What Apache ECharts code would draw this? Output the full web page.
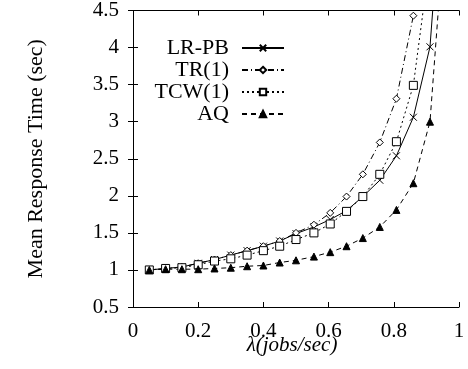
<!DOCTYPE html>
<html>
<head>
<meta charset="utf-8">
<script src="https://cdn.jsdelivr.net/npm/echarts@6/dist/echarts.min.js"></script>
<style>html,body{margin:0;padding:0;background:#fff;}#c{width:468px;height:369px;}</style>
</head>
<body>
<div id="c"></div>
<script>
// arrival rate (jobs/sec)
const lambda = [0.05,0.1,0.15,0.2,0.25,0.3,0.35,0.4,0.45,0.5,0.555,0.605,0.655,0.705,0.757,0.808,0.86,0.911,0.962];
const lrpb = [1.0,1.02,1.04,1.09,1.14,1.20,1.26,1.32,1.39,1.49,1.58,1.68,1.80,1.99,2.21,2.54,3.06,4.01,7.0];
const tr1  = [1.0,1.02,1.04,1.09,1.14,1.20,1.26,1.32,1.39,1.50,1.61,1.77,1.99,2.29,2.72,3.31,4.43];
const tcw1 = [1.0,1.02,1.03,1.07,1.12,1.15,1.20,1.26,1.32,1.41,1.50,1.62,1.79,1.99,2.29,2.73,3.49,5.2];
const aq   = [1.0,1.01,1.01,1.01,1.02,1.03,1.05,1.06,1.10,1.13,1.18,1.24,1.32,1.43,1.58,1.81,2.17,3.0,6.0];
const seriesNames = ['LR-PB','TR(1)','TCW(1)','AQ'];
const xTicks = {min:0, max:1, interval:0.2};
const yTicks = {min:0.5, max:4.5, interval:0.5};

const pairs = ys => ys.map((v,i)=>[lambda[i], v]);
const FONT = 'Liberation Serif';

const chart = echarts.init(document.getElementById('c'), null, {renderer:'canvas'});
const axisCommon = {
  axisLine:{show:true, lineStyle:{color:'#000', width:1}},
  axisTick:{show:true, inside:true, length:5, lineStyle:{color:'#000', width:1}},
  splitLine:{show:false}
};
chart.setOption({
  animation:false,
  backgroundColor:'#fff',
  grid:{left:133, right:9, top:10, bottom:62, containLabel:false},
  legend:{
    orient:'vertical', align:'right', right:183, top:37, padding:0,
    itemGap:0, itemWidth:42, itemHeight:8,
    textStyle:{fontFamily:FONT, fontSize:22, color:'#000', lineHeight:22, padding:[0,8,0,0]},
    data:seriesNames
  },
  xAxis:[
    Object.assign({type:'value', position:'bottom', min:xTicks.min, max:xTicks.max, interval:xTicks.interval,
      name:'λ(jobs/sec)', nameLocation:'middle', nameGap:28, nameMoveOverlap:false,
      nameTextStyle:{fontFamily:FONT, fontStyle:'italic', fontSize:21, color:'#000', padding:[0,8,0,0]},
      axisLabel:{fontFamily:FONT, fontSize:21, color:'#000', margin:14}}, axisCommon),
    Object.assign({type:'value', position:'top', min:xTicks.min, max:xTicks.max, interval:xTicks.interval,
      axisLabel:{show:false}}, axisCommon)
  ],
  yAxis:[
    Object.assign({type:'value', position:'left', min:yTicks.min, max:yTicks.max, interval:yTicks.interval,
      name:'Mean Response Time (sec)', nameLocation:'middle', nameGap:86, nameMoveOverlap:false,
      nameTextStyle:{fontFamily:FONT, fontSize:22, color:'#000'},
      axisLabel:{fontFamily:FONT, fontSize:21, color:'#000', margin:14}}, axisCommon),
    Object.assign({type:'value', position:'right', min:yTicks.min, max:yTicks.max, interval:yTicks.interval,
      axisLabel:{show:false}}, axisCommon)
  ],
  series:[
    {name:'LR-PB', type:'line', data:pairs(lrpb), clip:true,
     symbol:'path://M0,0L10,10M10,0L0,10', symbolSize:7,
     itemStyle:{color:'#000', borderColor:'#000', borderWidth:1},
     lineStyle:{color:'#000', width:1, type:'solid'}},
    {name:'TR(1)', type:'line', data:pairs(tr1), clip:true,
     symbol:'diamond', symbolSize:7,
     itemStyle:{color:'#fff', borderColor:'#000', borderWidth:1},
     lineStyle:{color:'#000', width:1, type:[6,3,1,3]}},
    {name:'TCW(1)', type:'line', data:pairs(tcw1), clip:true,
     symbol:'rect', symbolSize:8,
     itemStyle:{color:'#fff', borderColor:'#000', borderWidth:1},
     lineStyle:{color:'#000', width:1, type:[2,3]}},
    {name:'AQ', type:'line', data:pairs(aq), clip:true,
     symbol:'triangle', symbolSize:7,
     itemStyle:{color:'#000', borderColor:'#000', borderWidth:1},
     lineStyle:{color:'#000', width:1, type:[5,4]}}
  ]
});
</script>
</body>
</html>
